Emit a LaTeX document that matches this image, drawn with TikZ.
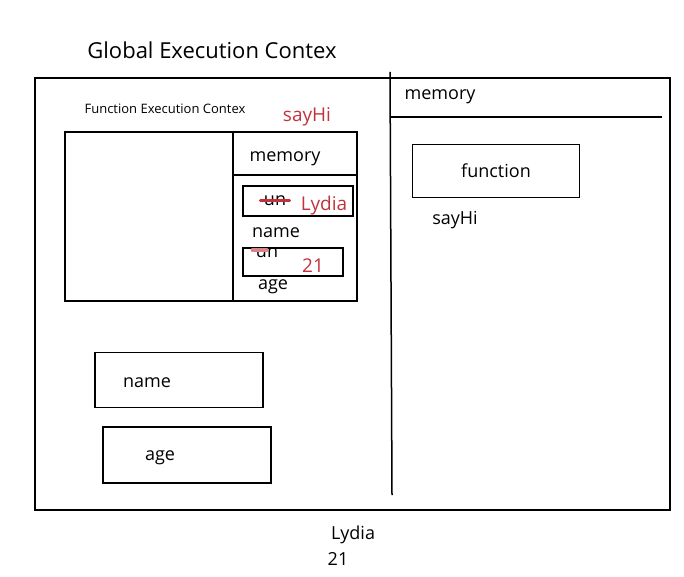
\documentclass[tikz,border=0pt]{standalone}
\usepackage{fontspec}
\setmainfont{Open Sans}
\definecolor{inkred}{HTML}{C2323C}

\begin{document}
\begin{tikzpicture}[x=1pt,y=-1pt,
    box/.style={draw,line width=1.5pt},
    txt/.style={font=\fontsize{18}{18}\selectfont},
    redtxt/.style={text=inkred,font=\fontsize{19}{19}\selectfont}]
                \useasboundingbox (0,0) rectangle (684,577);
                % global context
                \node[font=\fontsize{22}{22}\selectfont] (gtitle) at (212,50) {Global Execution Contex};
                \draw[box] (35,78) rectangle (670,510);
                \draw[line width=1.5pt] (390,72)--(392,495);
                \node[txt] (gmem) at (440,97) {memory};
                \draw[line width=1.5pt] (390,117)--(662,117);
                \node[box,minimum width=167pt,minimum height=53pt,txt] (fn) at (496,171) {function};
                \node[txt] (gsay) at (455,220) {sayHi};
                % function context
                \node[font=\fontsize{13}{13}\selectfont] (ftitle) at (165,109) {Function Execution Contex};
                \node[redtxt] (fsay) at (307,117) {sayHi};
                \draw[box] (65,132) rectangle (357,301);
                \draw[line width=1.5pt] (233,132)--(233,301);
                \node[txt] (fmem) at (285,159) {memory};
                \draw[line width=1.5pt] (233,175)--(357,175);
                \node[box,minimum width=110pt,minimum height=30pt] (b1) at (298,201) {};
                \node[txt] (un1) at (275,201) {un};
                \draw[inkred,line width=3pt,line cap=round] (un1.west)--(un1.east);
                \node[redtxt] (lydia1) at (324,206) {Lydia};
                \node[txt] (fname) at (276,233) {name};
                \node[box,minimum width=100pt,minimum height=28pt] (b2) at (293,262) {};
                \node[txt] (un2) at (267,253) {un};
                \draw[inkred!60,line width=3.5pt,line cap=round] ([yshift=3pt]un2.west)--([yshift=3pt]un2.center);
                \node[redtxt] (age1) at (313,266) {21};
                \node[txt] (fage) at (273,287) {age};
                % variables in global
                \node[box,minimum width=168pt,minimum height=55pt] (vname) at (179,380) {};
                \node[txt] at (147,383) {name};
                \node[box,minimum width=168pt,minimum height=56pt] (vage) at (187,455) {};
                \node[txt] at (160,458) {age};
                % output
                \node[txt] (out1) at (353,535) {Lydia};
                \node[txt] (out2) at (338,559) {21};
            \end{tikzpicture}
\end{document}
